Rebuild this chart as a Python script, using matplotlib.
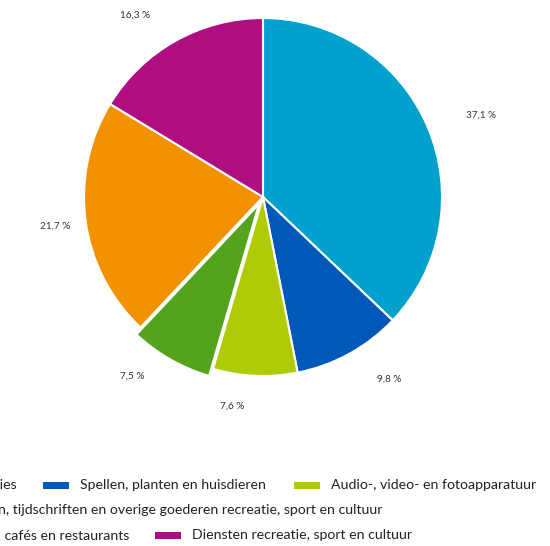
import matplotlib
matplotlib.use('Agg')
import numpy as np
import matplotlib.pyplot as plt
from matplotlib.patches import Rectangle

# data
categories = ['Pakketreizen en vakanties',
              'Spellen, planten en huisdieren',
              'Audio-, video- en fotoapparatuur',
              'Boeken, kranten, tijdschriften en overige goederen recreatie, sport en cultuur',
              'Hotels, cafés en restaurants',
              'Diensten recreatie, sport en cultuur']
shares = [37.1, 9.8, 7.6, 7.5, 21.7, 16.3]
colors = ['#00a1cd', '#0058b8', '#afcb05', '#53a31d', '#f39200', '#af0e80']
explode = [0, 0, 0, 0.045, 0, 0]

# label placement: distance from centre (in radii) and angle shift from wedge middle
label_dist = [1.30, 1.24, 1.18, 1.24, 1.17, 1.24]
label_shift = [-2.6, 6.0, -5.9, -6.5, 0.2, 5.8]

W, H = 550, 546
plt.rcParams['font.family'] = ['Lato', 'DejaVu Sans']

fig = plt.figure(figsize=(W / 100, H / 100), dpi=100)
fig.set_facecolor('white')

# pie centre (263, 197) px, radius 179 px
cx, cy, r = 263, 197, 179
ax = fig.add_axes([(cx - r) / W, (H - cy - r) / H, 2 * r / W, 2 * r / H])

wedges, texts, autotexts = ax.pie(
    shares, colors=colors, explode=explode, startangle=90, counterclock=False,
    autopct=lambda p: f'{p:.1f} %'.replace('.', ','), pctdistance=1.25,
    wedgeprops=dict(edgecolor='white', linewidth=1.5),
    textprops=dict(fontsize=7.2, color='#333333'))
ax.set_xlim(-1, 1)
ax.set_ylim(-1, 1)
ax.set_aspect('auto')

for w, t, d, s in zip(wedges, autotexts, label_dist, label_shift):
    ang = np.deg2rad((w.theta1 + w.theta2) / 2 + s)
    t.set_position((d * np.cos(ang), d * np.sin(ang)))


def px(x, y):
    return x / W, 1 - y / H


# legend (the original is cropped on the left)
legend_pos = [(17, 485, 'right'), (80, 485, 'left'), (331, 485, 'left'),
              (382, 510, 'right'), (129, 535, 'right'), (192, 535, 'left')]
legend_texts = []
for lab, (x, y, ha) in zip(categories, legend_pos):
    legend_texts.append(fig.text(*px(x, y), lab, ha=ha, va='center',
                                 fontsize=10.2, color='#222222'))

fig.canvas.draw()
for t, c, (x, y, ha) in zip(legend_texts, colors, legend_pos):
    x0 = t.get_window_extent().x0
    fig.add_artist(Rectangle(((x0 - 37) / W, 1 - (y + 4) / H), 26 / W, 7 / H,
                             transform=fig.transFigure, color=c, lw=0))

fig.savefig('out.png', dpi=100)
